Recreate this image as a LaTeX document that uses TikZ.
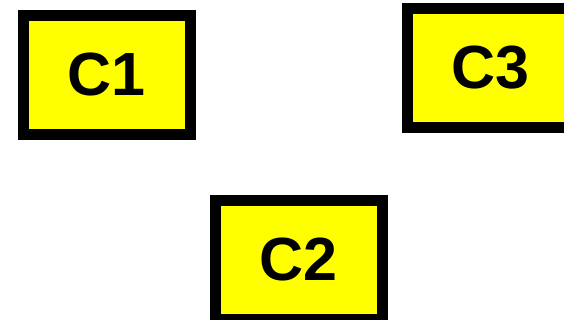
\documentclass[tikz,border=0pt]{standalone}
\usepackage{fontspec}
\setmainfont{Liberation Sans}
\definecolor{boxyellow}{RGB}{255,255,0}
\begin{document}
\begin{tikzpicture}[x=1pt, y=-1pt,
    cbox/.style={draw=black, fill=boxyellow, line width=11pt,
        minimum width=167pt, minimum height=119pt, inner sep=0pt,
        font=\fontsize{61}{61}\selectfont\bfseries}]
    % Rahmen
    \useasboundingbox (0,0) rectangle (564,320);
    \clip (0,0) rectangle (564,320);

    % Kaesten
    \node[cbox] (c1) at (106.5, 75) {C1};
    \node[cbox] (c3) at (490.7, 68) {C3};
    \node[cbox] (c2) at (298.5, 260) {C2};
\end{tikzpicture}
\end{document}
